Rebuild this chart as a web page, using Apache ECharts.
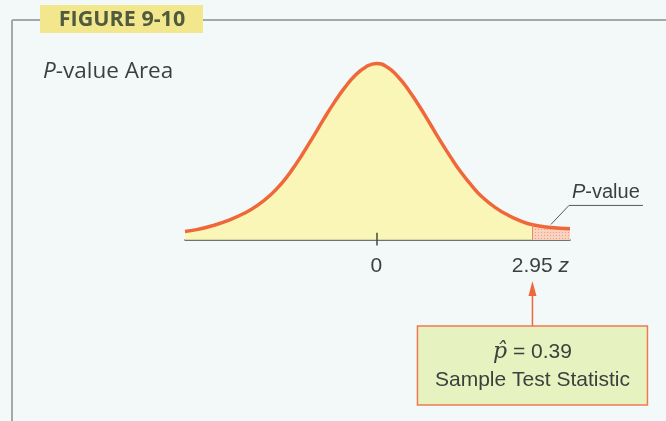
<!DOCTYPE html>
<html>
<head>
<meta charset="utf-8">
<script src="https://cdn.jsdelivr.net/npm/echarts@6/dist/echarts.min.js"></script>
<style>
  html, body { margin: 0; padding: 0; background: #f3f9f9; }
  #chart { width: 666px; height: 421px; }
</style>
</head>
<body>
<div id="chart"></div>
<script>
// Sampled points of the bell curve (z on the horizontal axis, curve height)
const zValues      = [-3.62, -3.4, -3.1, -2.8, -2.5, -2.25, -2.0, -1.8, -1.6, -1.4, -1.2, -1.0, -0.8, -0.6, -0.4, -0.2, 0, 0.2, 0.4, 0.6, 0.8, 1.0, 1.2, 1.4, 1.6, 1.8, 2.0, 2.25, 2.5, 2.7, 2.95, 3.3, 3.66];
const curveHeights = [0.019, 0.023, 0.032, 0.044, 0.060, 0.078, 0.102, 0.127, 0.158, 0.194, 0.233, 0.273, 0.311, 0.345, 0.373, 0.392, 0.400, 0.392, 0.371, 0.341, 0.305, 0.266, 0.226, 0.188, 0.153, 0.123, 0.097, 0.073, 0.055, 0.044, 0.034, 0.028, 0.025];

// Axis tick labels and the test statistic
const tickValues = [0, 2.95];
const testStatZ = 2.95;
const pHat = '0.39';
const leaderZ = 3.3;

const figureLabel = 'FIGURE 9-10';
const boxCaption = 'Sample Test Statistic';

const curve = zValues.map((z, i) => [z, curveHeights[i]]);
const tail = curve.filter(p => p[0] >= testStatZ);

// dotted fill for the tail region
function dotPattern() {
  const c = document.createElement('canvas');
  c.width = 3; c.height = 3;
  const g = c.getContext('2d');
  g.fillStyle = '#f9d3c0';
  g.fillRect(0, 0, 3, 3);
  g.fillStyle = '#ee9a7c';
  g.fillRect(1, 1, 1, 1);
  return c;
}

const textColor = '#3c403d';
const curveColor = '#f0673a';
const sans = 'Liberation Sans';

const chart = echarts.init(document.getElementById('chart'), null, { renderer: 'canvas' });

chart.setOption({
  backgroundColor: '#f3f9f9',
  animation: false,
  grid: { left: 185, right: 96, top: 59, bottom: 168 },
  xAxis: {
    type: 'value',
    min: -3.62,
    max: 3.66,
    axisLine: { onZero: true, lineStyle: { color: '#434a43', width: 1.5 } },
    axisTick: { show: false },
    splitLine: { show: false },
    axisLabel: {
      customValues: tickValues,
      margin: 3,
      formatter: v => v === testStatZ ? '{pad| }{n|' + v + '}{z| z}' : '{n|' + v + '}',
      rich: {
        pad: { width: 16, fontSize: 21 },
        n: { fontSize: 21, fontFamily: sans, color: textColor },
        z: { fontSize: 21, fontFamily: sans, fontStyle: 'italic', color: textColor }
      }
    }
  },
  yAxis: { type: 'value', min: -0.03, max: 0.41, show: false },
  series: [
    {
      type: 'line',
      data: curve,
      smooth: true,
      symbol: 'none',
      lineStyle: { width: 0 },
      areaStyle: { color: '#faf6b7', opacity: 1 },
      z: 1,
      markLine: {
        silent: true,
        symbol: 'none',
        label: { show: false },
        lineStyle: { color: '#434a43', width: 1.5, type: 'solid' },
        data: [[{ coord: [0, -0.013] }, { coord: [0, 0.016] }]]
      }
    },
    {
      type: 'line',
      data: tail,
      smooth: true,
      symbol: 'none',
      lineStyle: { width: 0 },
      areaStyle: { color: { image: dotPattern(), repeat: 'repeat' }, opacity: 1 },
      z: 2,
      markLine: {
        silent: true,
        symbol: 'none',
        label: { show: false },
        lineStyle: { color: '#f08560', width: 1, type: 'solid' },
        data: [[{ coord: [testStatZ, 0] }, { coord: [testStatZ, tail[0][1]] }]]
      }
    },
    {
      type: 'line',
      data: curve,
      smooth: true,
      symbol: 'none',
      lineStyle: { color: curveColor, width: 3.5 },
      z: 3
    }
  ]
});

// annotations placed from the data positions
const [ax] = chart.convertToPixel({ gridIndex: 0 }, [testStatZ, 0]);
const leaderH = curveHeights[zValues.indexOf(leaderZ)];
const [lx, ly] = chart.convertToPixel({ gridIndex: 0 }, [leaderZ, leaderH]);

const boxW = 230, boxH = 79, boxTop = 326;

chart.setOption({
  graphic: [
    // frame
    { type: 'line', z: 10, shape: { x1: 12, y1: 20, x2: 666, y2: 20 }, style: { stroke: '#a3aaa6', lineWidth: 2 } },
    { type: 'line', z: 10, shape: { x1: 12, y1: 20, x2: 12, y2: 421 }, style: { stroke: '#a3aaa6', lineWidth: 2 } },
    // figure badge
    { type: 'rect', z: 11, shape: { x: 40, y: 5, width: 163, height: 28 }, style: { fill: '#f2e78c' } },
    {
      type: 'text', z: 12, x: 122, y: 19.5,
      style: { text: figureLabel, fontSize: 21.5, fontWeight: 'bold', fontFamily: 'Open Sans', fill: '#4f5a3f', align: 'center', verticalAlign: 'middle' }
    },
    // figure title
    {
      type: 'text', z: 12, x: 43, y: 72,
      style: {
        text: '{i|P}{r|-value Area}',
        verticalAlign: 'middle',
        rich: {
          i: { fontSize: 22.5, fontFamily: 'Open Sans', fontStyle: 'italic', fill: textColor },
          r: { fontSize: 22.5, fontFamily: 'Open Sans', fill: textColor }
        }
      }
    },
    // P-value leader
    {
      type: 'polyline', z: 12,
      shape: { points: [[lx, ly - 3], [lx + 18, ly - 22], [lx + 92, ly - 22]] },
      style: { stroke: '#555a57', lineWidth: 1, fill: null }
    },
    {
      type: 'text', z: 12, x: lx + 21, y: ly - 35,
      style: {
        text: '{i|P}{r|-value}',
        verticalAlign: 'middle',
        rich: {
          i: { fontSize: 20, fontFamily: sans, fontStyle: 'italic', fill: textColor },
          r: { fontSize: 20, fontFamily: sans, fill: textColor }
        }
      }
    },
    // arrow from the box up to the test statistic
    { type: 'line', z: 12, shape: { x1: ax, y1: boxTop, x2: ax, y2: 290 }, style: { stroke: curveColor, lineWidth: 1.5 } },
    { type: 'polygon', z: 12, shape: { points: [[ax, 281], [ax - 4, 296], [ax + 4, 296]] }, style: { fill: curveColor } },
    // sample statistic box
    {
      type: 'rect', z: 12,
      shape: { x: ax - boxW / 2, y: boxTop, width: boxW, height: boxH },
      style: { fill: '#e7f2c1', stroke: '#ef7a52', lineWidth: 1.5 }
    },
    {
      type: 'text', z: 13, x: ax, y: 352,
      style: {
        text: '{p|p\u0302}{r| = ' + pHat + '}',
        align: 'center', verticalAlign: 'middle',
        rich: {
          p: { fontSize: 22, fontFamily: 'DejaVu Serif', fontStyle: 'italic', fill: textColor },
          r: { fontSize: 21, fontFamily: sans, fill: textColor }
        }
      }
    },
    {
      type: 'text', z: 13, x: ax, y: 380,
      style: { text: boxCaption, fontSize: 21, fontFamily: sans, fill: textColor, align: 'center', verticalAlign: 'middle' }
    }
  ]
});
</script>
</body>
</html>
